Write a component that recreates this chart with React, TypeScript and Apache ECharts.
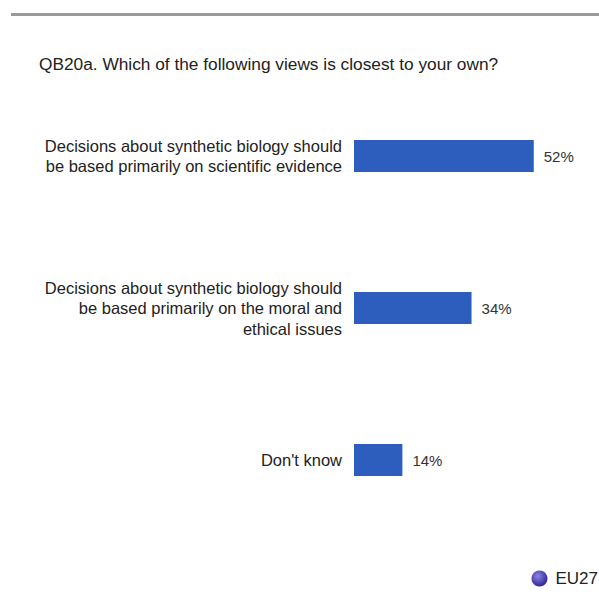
import React, { useEffect, useRef } from "react";
import * as echarts from "echarts";

const categories = [
  "Decisions about synthetic biology should\nbe based primarily on scientific evidence",
  "Decisions about synthetic biology should\nbe based primarily on the moral and\nethical issues",
  "Don't know",
];
const values = [52, 34, 14];
const seriesName = "EU27";
const titleText = "QB20a. Which of the following views is closest to your own?";

export default function App() {
  const ref = useRef<HTMLDivElement>(null);
  useEffect(() => {
    document.body.style.margin = "0";
    if (!ref.current) return;
    const chart = echarts.init(ref.current, undefined, { renderer: "svg" });
    chart.setOption({
      animation: false,
      backgroundColor: "#ffffff",
      textStyle: { fontFamily: "Liberation Sans, Arial, sans-serif" },
      title: {
        text: titleText,
        left: 34,
        top: 50,
        textStyle: { fontSize: 17.3, fontWeight: "normal", color: "#222" },
      },
      graphic: [
        {
          type: "rect",
          shape: { x: 11, y: 13, width: 588, height: 3 },
          style: { fill: "#9a9a9a" },
        },
      ],
      legend: {
        right: -4,
        bottom: 6,
        itemWidth: 16,
        itemHeight: 16,
        itemGap: 6,
        icon: "circle",
        textStyle: { fontSize: 17, color: "#222", padding: [0, 0, 0, 3] },
        data: [
          {
            name: seriesName,
            itemStyle: {
              color: new echarts.graphic.RadialGradient(0.4, 0.35, 0.7, [
                { offset: 0, color: "#8a84e8" },
                { offset: 1, color: "#2a1f8c" },
              ]),
            },
          },
        ],
      },
      grid: { left: 354, right: 3, top: 80, bottom: 62 },
      xAxis: {
        type: "value",
        min: 0,
        max: 70,
        show: false,
      },
      yAxis: {
        type: "category",
        inverse: true,
        data: categories,
        axisLine: { show: false },
        axisTick: { show: false },
        axisLabel: {
          fontSize: 16.5,
          color: "#222",
          lineHeight: 20.5,
          margin: 12,
          align: "right",
        },
      },
      series: [
        {
          name: seriesName,
          type: "bar",
          data: values,
          barWidth: 32,
          itemStyle: { color: "#2e5ebd" },
          label: {
            show: true,
            position: "right",
            distance: 10,
            formatter: "{c}%",
            fontSize: 15,
            color: "#333",
          },
        },
      ],
    });
    return () => chart.dispose();
  }, []);
  return <div ref={ref} style={{ width: 599, height: 598 }} />;
}
